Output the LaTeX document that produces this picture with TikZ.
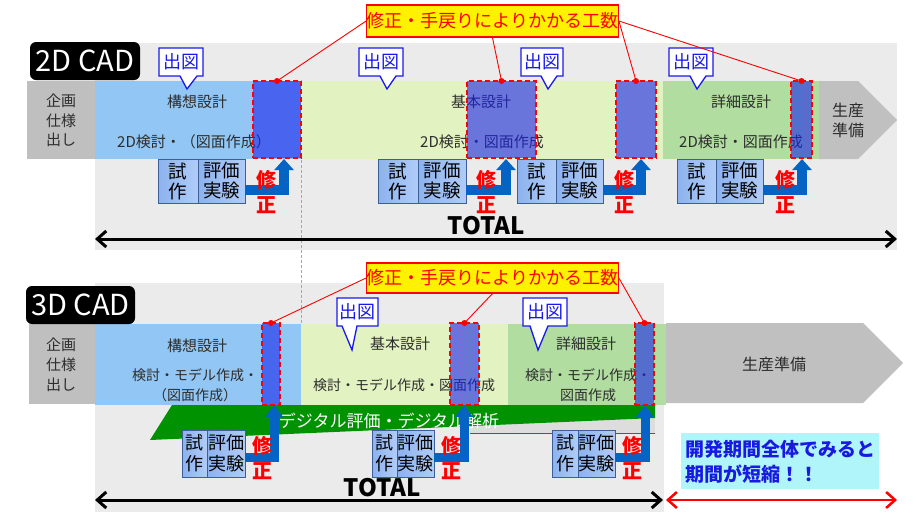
\documentclass[tikz,border=0pt]{standalone}
\usepackage{fontspec}
\setmainfont{Noto Sans CJK JP}
\usetikzlibrary{arrows.meta}
\definecolor{bggray}{RGB}{235,235,235}
\definecolor{leftgray}{RGB}{191,191,191}
\definecolor{lblue}{RGB}{146,198,244}
\definecolor{lgreen}{RGB}{227,242,193}
\definecolor{mgreen}{RGB}{177,221,161}
\definecolor{arrgray}{RGB}{192,192,192}
\definecolor{boxblue}{RGB}{25,35,235}
\definecolor{trialL}{RGB}{140,178,238}
\definecolor{trialR}{RGB}{176,204,248}
\definecolor{trialB}{RGB}{60,95,150}
\definecolor{fixblue}{RGB}{5,100,195}
\definecolor{diggreen}{RGB}{0,146,0}
\definecolor{cyanbox}{RGB}{175,245,250}
\definecolor{cyantext}{RGB}{25,25,225}
\definecolor{callblue}{RGB}{25,25,235}
\definecolor{txtgray}{RGB}{45,45,45}
\definecolor{stripgray}{RGB}{221,221,221}
\begin{document}
\begin{tikzpicture}[x=1pt,y=-1pt,
  rectbox/.style={inner sep=0pt, outer sep=0pt, anchor=north west, draw=none},
  txt/.style={inner sep=0pt, text=txtgray, align=center, font=\fontsize{15}{19.5}\selectfont},
  smalltxt/.style={txt, font=\fontsize{14}{20}\selectfont},
  fixbox/.style={rectbox, fill=boxblue, fill opacity=0.6, draw=red, line width=2.2pt, dash pattern=on 5pt off 3pt},
  trial/.style={rectbox, draw=trialB, line width=0.8pt, left color=trialL, right color=trialR, text=black, align=center, font=\fontsize{18.5}{20}\selectfont},
  trialb/.style={trial, font=\fontsize{18}{21}\selectfont},
  fixarrow/.style={draw=fixblue, line width=10pt, -{Triangle[width=19pt,length=11pt]}},
  fixarrowb/.style={draw=fixblue, line width=9pt, -{Triangle[width=17pt,length=12pt]}},
  fixtxt/.style={inner sep=0pt, text=red, align=center, font=\bfseries\fontsize{20}{25}\selectfont},
  zubox/.style={draw=callblue, fill=white, line width=1.3pt, line join=miter},
  calltxt/.style={inner sep=0pt, text=callblue, font=\fontsize{18}{20}\selectfont},
  reddot/.style={circle, fill=red, inner sep=0pt, minimum size=6pt},
  redline/.style={draw=red, line width=0.9pt},
  costlabel/.style={draw=red, line width=1.2pt, fill=yellow, text=red, inner sep=0pt, minimum width=249pt, minimum height=32pt, font=\fontsize{18}{20}\selectfont},
  cadbox/.style={fill=black, rounded corners=6pt, text=white, inner sep=0pt, minimum width=110pt, minimum height=38pt, font=\fontsize{29}{30}\selectfont},
  totaltxt/.style={inner sep=0pt, font=\bfseries\fontsize{24}{26}\selectfont},
  blackarr/.style={draw=black, line width=3pt, {Straight Barb[length=9pt,width=16pt]}-{Straight Barb[length=9pt,width=16pt]}},
  redarr/.style={draw=red, line width=2.5pt, {Straight Barb[length=9pt,width=16pt]}-{Straight Barb[length=9pt,width=16pt]}},
]
\useasboundingbox (0,0) rectangle (916,512);
\fill[white] (0,0) rectangle (916,512);
% backgrounds
\fill[bggray] (95,43) rectangle (897,250);
\fill[bggray] (95,283) rectangle (664,512);
\coordinate (g1) at (301,80);
\coordinate (g2) at (301,323);
\draw[gray!70, dash pattern=on 3pt off 2pt, line width=0.7pt] (g1) -- (g2);

% ===== 2D CAD row =====
\node[rectbox, fill=leftgray, minimum width=68pt, minimum height=78pt] (tl) at (27,81) {};
\node[rectbox, fill=lblue, minimum width=206pt, minimum height=78pt] (tk) at (95,81) {};
\node[rectbox, fill=lgreen, minimum width=362pt, minimum height=78pt] (tb) at (301,81) {};
\node[rectbox, fill=mgreen, minimum width=156pt, minimum height=78pt] (ts) at (663,81) {};
\fill[arrgray] (819,81) -- (858,81) -- (897,120) -- (858,159) -- (819,159) -- cycle;
\node[txt] (tlt) at (61,120.5) {企画\\仕様\\出し};
\node[txt] (tkt) at (197,102) {構想設計};
\node[txt] (tkd) at (194,142) {2D検討・（図面作成）};
\node[txt] (tbt) at (481,102) {基本設計};
\node[txt] (tbd) at (482,142) {2D検討・図面作成};
\node[txt] (tst) at (741,102) {詳細設計};
\node[txt] (tsd) at (741,142) {2D検討・図面作成};
\node[txt, font=\fontsize{16}{20}\selectfont] (tpt) at (848,120) {生産\\準備};

\node[fixbox, minimum width=48pt, minimum height=77pt] (b1) at (253,81) {};
\node[fixbox, minimum width=69pt, minimum height=77pt] (b2) at (467,81) {};
\node[fixbox, minimum width=40pt, minimum height=77pt] (b3) at (616,81) {};
\node[fixbox, minimum width=21pt, minimum height=77pt] (b4) at (791,81) {};

\node[trial, minimum width=40pt, minimum height=44pt] (s1) at (158,159) {試\\作};
\node[trial, minimum width=47pt, minimum height=44pt] (h1) at (198,159) {評価\\実験};
\node[trial, minimum width=40pt, minimum height=44pt] (s2) at (378,159) {試\\作};
\node[trial, minimum width=48pt, minimum height=44pt] (h2) at (418,159) {評価\\実験};
\node[trial, minimum width=39pt, minimum height=44pt] (s3) at (517,159) {試\\作};
\node[trial, minimum width=47pt, minimum height=44pt] (h3) at (556,159) {評価\\実験};
\node[trial, minimum width=39pt, minimum height=44pt] (s4) at (677,159) {試\\作};
\node[trial, minimum width=47pt, minimum height=44pt] (h4) at (716,159) {評価\\実験};

\coordinate (a1) at (284,159);
\coordinate (a2) at (506,159);
\coordinate (a3) at (641,159);
\coordinate (a4) at (802,159);
\draw[fixarrow] ([yshift=-9pt]h1.east) -| (a1);
\draw[fixarrow] ([yshift=-9pt]h2.east) -| (a2);
\draw[fixarrow] ([yshift=-9pt]h3.east) -| (a3);
\draw[fixarrow] ([yshift=-9pt]h4.east) -| (a4);
\node[fixtxt] (f1) at (266,192.5) {修\\正};
\node[fixtxt] (f2) at (486,192.5) {修\\正};
\node[fixtxt] (f3) at (624,192.5) {修\\正};
\node[fixtxt] (f4) at (785,192.5) {修\\正};

\draw[zubox] (159,48) -- (203,48) -- (203,76) -- (197,76) -- (187,89) -- (180,76) -- (159,76) -- cycle;
\node[calltxt] (z1) at (181,62) {出図};
\draw[zubox] (359,48) -- (403,48) -- (403,76) -- (396,76) -- (387,89) -- (380,76) -- (359,76) -- cycle;
\node[calltxt] (z2) at (381,62) {出図};
\draw[zubox] (521,48) -- (563,48) -- (563,76) -- (557,76) -- (548,89) -- (541,76) -- (521,76) -- cycle;
\node[calltxt] (z3) at (542,62) {出図};
\draw[zubox] (669,48) -- (713,48) -- (713,76) -- (706,76) -- (697,89) -- (690,76) -- (669,76) -- cycle;
\node[calltxt] (z4) at (691,62) {出図};

\node[costlabel] (lab1) at (492.5,21) {修正・手戻りによりかかる工数};
\draw[redline] (lab1.west) -- (b1.north);
\draw[redline] (lab1.south) -- (b2.north);
\draw[redline] (lab1.east) -- (b3.north);
\draw[redline] (lab1.east) -- (b4.north);
\node[reddot] (d1) at (b1.north) {};
\node[reddot] (d2) at (b2.north) {};
\node[reddot] (d3) at (b3.north) {};
\node[reddot] (d4) at (b4.north) {};

\node[cadbox] (cad2) at (85,61) {2D CAD};
\node[totaltxt] (tot1) at (486,226) {TOTAL};
\coordinate (ta1) at (95,239);
\coordinate (ta2) at (897,239);
\draw[blackarr] (ta1) -- (ta2);

% ===== 3D CAD row =====
\node[rectbox, fill=leftgray, minimum width=66pt, minimum height=80pt] (bl) at (29,324) {};
\node[rectbox, fill=lblue, minimum width=206pt, minimum height=81pt] (bk) at (95,324) {};
\node[rectbox, fill=lgreen, minimum width=207pt, minimum height=81pt] (bb) at (301,324) {};
\node[rectbox, fill=mgreen, minimum width=158pt, minimum height=81pt] (bs) at (508,324) {};
\fill[arrgray] (666,323) -- (863,323) -- (903,363) -- (863,403) -- (666,403) -- cycle;
\node[txt, font=\fontsize{15}{20}\selectfont] (blt) at (61,365) {企画\\仕様\\出し};
\node[txt] (bkt) at (197,346) {構想設計};
\node[smalltxt] (bkd) at (195,385) {検討・モデル作成・\\（図面作成）};
\node[txt] (bbt) at (400,344) {基本設計};
\node[smalltxt] (bbd) at (404,385) {検討・モデル作成・図面作成};
\node[txt] (bst) at (586,344) {詳細設計};
\node[smalltxt] (bsd) at (588,385) {検討・モデル作成・\\図面作成};
\node[txt, font=\fontsize{16}{20}\selectfont] (bpt) at (774,364) {生産準備};

% digital band
\fill[stripgray] (470,418) rectangle (655,433);
\draw[diggreen, line width=0.6pt] (470,433) -- (655,433);
\fill[diggreen] (150,440) -- (172,405) -- (655,405) -- (655,418) -- cycle;
\node[inner sep=0pt, text=white, font=\fontsize{17}{20}\selectfont] (dig) at (389,421) {デジタル評価・デジタル解析};

\node[fixbox, minimum width=18pt, minimum height=82pt] (B1) at (262,323) {};
\node[fixbox, minimum width=29pt, minimum height=82pt] (B2) at (450,323) {};
\node[fixbox, minimum width=19pt, minimum height=82pt] (B3) at (635,323) {};

\node[trialb, minimum width=25pt, minimum height=47pt] (S1) at (182,430) {試\\作};
\node[trialb, minimum width=38pt, minimum height=47pt] (H1) at (207,430) {評価\\実験};
\node[trialb, minimum width=25pt, minimum height=47pt] (S2) at (372,430) {試\\作};
\node[trialb, minimum width=37pt, minimum height=47pt] (H2) at (397,430) {評価\\実験};
\node[trialb, minimum width=26pt, minimum height=47pt] (S3) at (552,430) {試\\作};
\node[trialb, minimum width=37pt, minimum height=47pt] (H3) at (578,430) {評価\\実験};

\coordinate (A1) at (274,405);
\coordinate (A2) at (464,405);
\coordinate (A3) at (645,405);
\draw[fixarrowb] ([yshift=-3.5pt]H1.east) -| (A1);
\draw[fixarrowb] ([yshift=-3.5pt]H2.east) -| (A2);
\draw[fixarrowb] ([yshift=-3.5pt]H3.east) -| (A3);
\node[fixtxt] (F1) at (262,458.5) {修\\正};
\node[fixtxt] (F2) at (451,458.5) {修\\正};
\node[fixtxt] (F3) at (632,458.5) {修\\正};

\draw[zubox] (337,298) -- (378,298) -- (378,326) -- (357,326) -- (352,350) -- (342,326) -- (337,326) -- cycle;
\node[calltxt] (Z1) at (357.5,312) {出図};
\draw[zubox] (523,298) -- (567,298) -- (567,326) -- (548,326) -- (538,350) -- (530,326) -- (523,326) -- cycle;
\node[calltxt] (Z2) at (545,312) {出図};

\node[costlabel, minimum height=30pt] (lab2) at (492.5,278) {修正・手戻りによりかかる工数};
\draw[redline] (lab2.west) -- (B1.north);
\draw[redline] (lab2.south) -- (B2.north);
\draw[redline] (lab2.east) -- (B3.north);
\node[reddot] (D1) at (B1.north) {};
\node[reddot] (D2) at (B2.north) {};
\node[reddot] (D3) at (B3.north) {};

\node[cadbox, minimum width=109pt] (cad3) at (80.5,305) {3D CAD};
\node[totaltxt] (tot2) at (382,488) {TOTAL};
\coordinate (ba1) at (95,500);
\coordinate (ba2) at (663,500);
\coordinate (ra1) at (666,500);
\coordinate (ra2) at (897,500);
\draw[blackarr] (ba1) -- (ba2);
\draw[redarr] (ra1) -- (ra2);

\node[rectbox, fill=cyanbox, minimum width=198pt, minimum height=56pt] (cy) at (681,433) {};
\node[inner sep=0pt, anchor=west, align=left, text=cyantext, font=\bfseries\fontsize{19}{25}\selectfont] (cyt) at (685,461.5) {開発期間全体でみると\\期間が短縮！！};
\end{tikzpicture}
\end{document}
